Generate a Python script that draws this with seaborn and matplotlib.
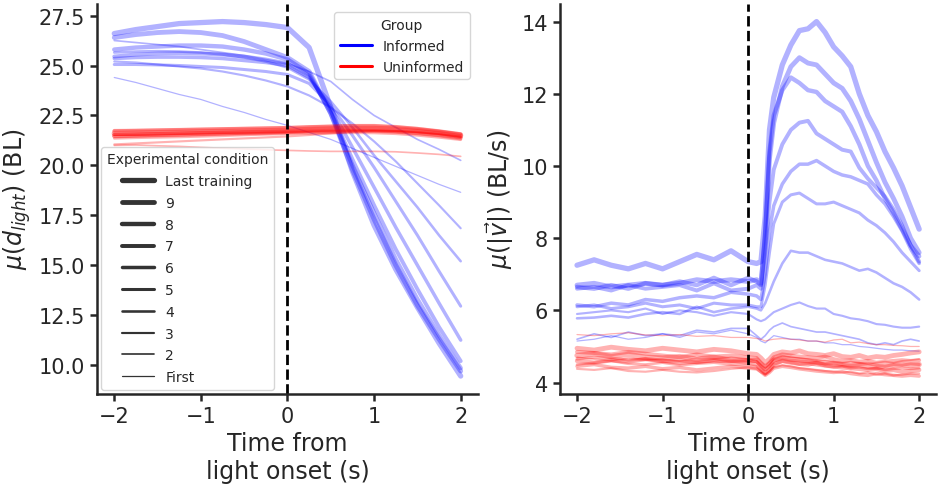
import matplotlib
matplotlib.use("Agg")
import matplotlib.pyplot as plt
from matplotlib.lines import Line2D
import pandas as pd
import seaborn as sns

# ---------------------------------------------------------------------------
# Experimental conditions (thin -> thick line) and groups
# ---------------------------------------------------------------------------
conditions = ["First", "2", "3", "4", "5", "6", "7", "8", "9", "Last training"]
groups = ["Informed", "Uninformed"]
group_colors = {"Informed": "blue", "Uninformed": "red"}

# ---------------------------------------------------------------------------
# Mean distance to the light (BL) around light onset
# ---------------------------------------------------------------------------
t_dist = [-2.0, -1.75, -1.5, -1.25, -1.0, -0.75, -0.5, -0.25, 0.0,
          0.25, 0.5, 0.75, 1.0, 1.25, 1.5, 1.75, 2.0]

dist_inf_first = [24.4, 24.15, 23.85, 23.55, 23.3, 22.95, 22.65, 22.3, 22.0, 21.65, 21.3, 20.85, 20.4, 19.95, 19.5, 19.05, 18.65]
dist_inf_2 = [26.25, 26.15, 26.05, 25.95, 25.8, 25.65, 25.5, 25.3, 25.1, 24.7, 24.2, 23.3, 22.5, 21.9, 21.3, 20.8, 20.25]
dist_inf_3 = [25.2, 25.15, 25.05, 24.95, 24.85, 24.7, 24.5, 24.25, 23.95, 23.5, 22.9, 22.1, 21.2, 20.2, 19.1, 18.0, 16.85]
dist_inf_4 = [25.65, 25.7, 25.72, 25.7, 25.65, 25.55, 25.4, 25.2, 24.9, 24.3, 23.2, 21.9, 20.5, 19.2, 17.9, 16.5, 15.2]
dist_inf_5 = [25.05, 25.05, 25.03, 25.0, 24.95, 24.9, 24.8, 24.7, 24.55, 24.1, 23.0, 21.5, 19.9, 18.2, 16.5, 14.7, 12.95]
dist_inf_6 = [25.35, 25.4, 25.42, 25.42, 25.4, 25.35, 25.25, 25.15, 25.0, 24.4, 22.9, 20.9, 18.9, 16.9, 15.0, 13.1, 11.25]
dist_inf_7 = [25.45, 25.55, 25.6, 25.62, 25.6, 25.55, 25.45, 25.3, 25.1, 24.5, 22.7, 20.3, 18.0, 15.8, 13.8, 11.9, 10.2]
dist_inf_8 = [25.8, 25.9, 25.95, 26.0, 26.0, 25.95, 25.8, 25.6, 25.3, 24.6, 22.6, 20.0, 17.6, 15.3, 13.3, 11.5, 9.85]
dist_inf_9 = [26.4, 26.55, 26.65, 26.7, 26.65, 26.5, 26.2, 25.8, 25.4, 24.7, 22.6, 19.8, 17.3, 15.0, 13.0, 11.3, 9.7]
dist_inf_last = [26.6, 26.8, 26.95, 27.1, 27.15, 27.2, 27.15, 27.05, 26.9, 25.9, 22.9, 19.7, 17.0, 14.8, 12.9, 11.1, 9.45]

dist_uninf_first = [21.5, 21.5, 21.52, 21.55, 21.58, 21.6, 21.62, 21.65, 21.67, 21.7, 21.72, 21.74, 21.74, 21.7, 21.64, 21.55, 21.4]
dist_uninf_2 = [21.0, 21.02, 20.98, 20.95, 20.9, 20.86, 20.82, 20.78, 20.75, 20.72, 20.7, 20.7, 20.7, 20.68, 20.62, 20.55, 20.45]
dist_uninf_3 = [21.05, 21.1, 21.15, 21.2, 21.25, 21.3, 21.35, 21.4, 21.45, 21.52, 21.6, 21.68, 21.72, 21.72, 21.68, 21.58, 21.45]
dist_uninf_4 = [21.35, 21.38, 21.4, 21.42, 21.45, 21.48, 21.52, 21.55, 21.58, 21.6, 21.62, 21.63, 21.62, 21.58, 21.5, 21.4, 21.28]
dist_uninf_5 = [21.75, 21.76, 21.78, 21.8, 21.82, 21.84, 21.86, 21.88, 21.9, 21.94, 21.97, 22.0, 22.0, 21.95, 21.85, 21.72, 21.58]
dist_uninf_6 = [21.55, 21.56, 21.58, 21.6, 21.62, 21.64, 21.66, 21.68, 21.7, 21.72, 21.74, 21.76, 21.75, 21.7, 21.62, 21.52, 21.4]
dist_uninf_7 = [21.45, 21.48, 21.5, 21.52, 21.55, 21.58, 21.6, 21.62, 21.65, 21.68, 21.7, 21.72, 21.72, 21.68, 21.6, 21.5, 21.35]
dist_uninf_8 = [21.7, 21.72, 21.74, 21.76, 21.78, 21.8, 21.82, 21.84, 21.86, 21.9, 21.93, 21.95, 21.95, 21.9, 21.82, 21.7, 21.55]
dist_uninf_9 = [21.5, 21.52, 21.55, 21.58, 21.6, 21.63, 21.65, 21.68, 21.7, 21.75, 21.78, 21.8, 21.8, 21.76, 21.7, 21.6, 21.45]
dist_uninf_last = [21.6, 21.62, 21.64, 21.66, 21.68, 21.7, 21.72, 21.74, 21.76, 21.8, 21.83, 21.85, 21.85, 21.82, 21.75, 21.65, 21.5]

# ---------------------------------------------------------------------------
# Mean speed (BL/s) around light onset
# ---------------------------------------------------------------------------
t_speed = [-2.0, -1.8, -1.6, -1.4, -1.2, -1.0, -0.8, -0.6, -0.4, -0.2, 0.0,
           0.1, 0.15, 0.2, 0.25, 0.3, 0.4, 0.5, 0.6, 0.7, 0.8, 0.9, 1.0,
           1.1, 1.2, 1.3, 1.4, 1.5, 1.6, 1.7, 1.8, 1.9, 2.0]

speed_inf_first = [5.15, 5.2, 5.3, 5.2, 5.25, 5.35, 5.25, 5.4, 5.35, 5.45, 5.35, 5.25, 5.15, 5.1, 5.2, 5.3, 5.25, 5.2, 5.2, 5.15, 5.15, 5.1, 5.1, 5.05, 5.05, 5.0, 4.98, 4.95, 4.92, 4.9, 4.9, 4.88, 4.87]
speed_inf_2 = [5.2, 5.35, 5.25, 5.4, 5.3, 5.35, 5.3, 5.45, 5.4, 5.5, 5.5, 5.3, 5.2, 5.3, 5.45, 5.55, 5.65, 5.55, 5.5, 5.45, 5.4, 5.4, 5.35, 5.3, 5.25, 5.2, 5.1, 5.05, 5.1, 5.05, 5.15, 5.2, 5.15]
speed_inf_3 = [5.9, 5.95, 6.0, 5.95, 6.05, 5.9, 6.0, 5.95, 5.85, 5.95, 5.9, 5.75, 5.7, 5.75, 5.85, 5.95, 6.05, 6.15, 6.22, 6.12, 6.05, 6.05, 5.9, 5.85, 5.78, 5.75, 5.7, 5.62, 5.6, 5.55, 5.52, 5.52, 5.55]
speed_inf_4 = [5.78, 5.8, 5.85, 5.8, 5.9, 5.95, 5.9, 6.1, 5.95, 6.05, 6.1, 6.05, 6.0, 6.2, 6.5, 6.8, 7.3, 7.65, 7.6, 7.6, 7.5, 7.4, 7.35, 7.3, 7.2, 7.1, 7.15, 7.05, 6.9, 6.75, 6.65, 6.5, 6.3]
speed_inf_5 = [6.1, 6.15, 6.05, 6.1, 6.2, 6.1, 6.15, 6.05, 6.2, 6.15, 6.15, 6.1, 6.1, 6.7, 7.6, 8.4, 9.0, 9.2, 9.25, 9.1, 8.95, 8.95, 9.0, 8.9, 8.8, 8.7, 8.5, 8.35, 8.15, 7.9, 7.6, 7.35, 7.1]
speed_inf_6 = [6.15, 6.1, 6.2, 6.15, 6.3, 6.25, 6.35, 6.4, 6.35, 6.5, 6.45, 6.4, 6.3, 7.0, 8.2, 8.9, 9.5, 9.85, 10.05, 10.05, 10.15, 10.0, 9.85, 9.75, 9.7, 9.6, 9.5, 9.2, 8.95, 8.6, 8.2, 7.7, 7.3]
speed_inf_7 = [6.6, 6.65, 6.55, 6.7, 6.6, 6.65, 6.7, 6.55, 6.75, 6.55, 6.6, 6.7, 6.6, 7.6, 9.0, 9.9, 10.6, 11.0, 11.2, 11.25, 10.9, 10.75, 10.6, 10.45, 10.4, 9.95, 9.65, 9.4, 9.15, 8.8, 8.35, 7.8, 7.35]
speed_inf_8 = [6.65, 6.6, 6.7, 6.6, 6.75, 6.7, 6.8, 6.7, 6.9, 6.7, 6.9, 6.8, 6.7, 8.2, 10.4, 11.4, 12.1, 12.45, 12.3, 12.1, 12.05, 11.8, 11.65, 11.5, 11.1, 10.6, 10.0, 9.6, 9.1, 8.7, 8.25, 7.8, 7.5]
speed_inf_9 = [6.7, 6.75, 6.65, 6.7, 6.75, 6.7, 6.75, 6.85, 6.8, 6.85, 6.8, 6.85, 6.75, 8.0, 10.2, 11.2, 12.2, 12.75, 13.0, 12.85, 12.8, 12.55, 12.3, 12.15, 11.8, 11.3, 10.7, 10.1, 9.55, 9.1, 8.6, 8.0, 7.6]
speed_inf_last = [7.25, 7.4, 7.25, 7.15, 7.3, 7.15, 7.35, 7.55, 7.4, 7.65, 7.35, 7.3, 7.35, 8.6, 11.0, 11.9, 12.8, 13.35, 13.75, 13.8, 14.0, 13.7, 13.3, 13.05, 12.75, 12.0, 11.4, 10.95, 10.4, 9.95, 9.45, 8.85, 8.25]

speed_uninf_first = [5.33, 5.3, 5.35, 5.38, 5.32, 5.3, 5.33, 5.28, 5.3, 5.25, 5.25, 5.22, 5.2, 5.15, 5.18, 5.2, 5.22, 5.2, 5.18, 5.15, 5.15, 5.12, 5.18, 5.2, 5.1, 5.12, 5.08, 5.05, 5.05, 5.03, 5.02, 5.0, 5.0]
speed_uninf_2 = [4.7, 4.65, 4.6, 4.68, 4.62, 4.65, 4.6, 4.68, 4.65, 4.7, 4.65, 4.6, 4.5, 4.4, 4.5, 4.65, 4.72, 4.7, 4.68, 4.65, 4.6, 4.62, 4.58, 4.55, 4.58, 4.55, 4.52, 4.55, 4.58, 4.55, 4.6, 4.62, 4.65]
speed_uninf_3 = [4.38, 4.35, 4.4, 4.32, 4.3, 4.35, 4.3, 4.28, 4.32, 4.38, 4.42, 4.38, 4.28, 4.22, 4.3, 4.42, 4.48, 4.45, 4.4, 4.38, 4.35, 4.32, 4.3, 4.28, 4.3, 4.25, 4.28, 4.22, 4.25, 4.2, 4.22, 4.25, 4.25]
speed_uninf_4 = [4.5, 4.55, 4.6, 4.52, 4.5, 4.55, 4.48, 4.52, 4.55, 4.5, 4.48, 4.45, 4.35, 4.25, 4.35, 4.5, 4.58, 4.55, 4.5, 4.52, 4.48, 4.45, 4.42, 4.45, 4.4, 4.42, 4.38, 4.4, 4.35, 4.38, 4.4, 4.38, 4.4]
speed_uninf_5 = [4.65, 4.7, 4.68, 4.62, 4.65, 4.58, 4.6, 4.55, 4.6, 4.58, 4.62, 4.58, 4.45, 4.35, 4.45, 4.6, 4.65, 4.62, 4.6, 4.58, 4.55, 4.52, 4.55, 4.5, 4.48, 4.5, 4.52, 4.48, 4.45, 4.5, 4.48, 4.52, 4.5]
speed_uninf_6 = [4.45, 4.5, 4.42, 4.4, 4.45, 4.38, 4.42, 4.35, 4.4, 4.45, 4.4, 4.38, 4.3, 4.2, 4.28, 4.4, 4.45, 4.42, 4.38, 4.35, 4.32, 4.3, 4.28, 4.3, 4.25, 4.22, 4.2, 4.25, 4.22, 4.2, 4.18, 4.2, 4.18]
speed_uninf_7 = [4.85, 4.82, 4.78, 4.85, 4.8, 4.75, 4.7, 4.78, 4.72, 4.75, 4.7, 4.68, 4.55, 4.45, 4.55, 4.7, 4.78, 4.75, 4.72, 4.7, 4.68, 4.72, 4.65, 4.6, 4.62, 4.58, 4.6, 4.55, 4.58, 4.6, 4.62, 4.6, 4.62]
speed_uninf_8 = [4.6, 4.55, 4.62, 4.58, 4.65, 4.6, 4.55, 4.58, 4.62, 4.6, 4.55, 4.5, 4.38, 4.25, 4.35, 4.5, 4.6, 4.55, 4.52, 4.5, 4.55, 4.48, 4.45, 4.42, 4.4, 4.38, 4.35, 4.38, 4.32, 4.35, 4.3, 4.32, 4.35]
speed_uninf_9 = [4.95, 4.9, 4.98, 4.92, 4.88, 4.95, 4.9, 4.85, 4.92, 4.88, 4.8, 4.78, 4.68, 4.55, 4.65, 4.78, 4.85, 4.82, 4.88, 4.8, 4.78, 4.75, 4.8, 4.72, 4.7, 4.75, 4.68, 4.72, 4.7, 4.75, 4.78, 4.82, 4.85]
speed_uninf_last = [4.75, 4.8, 4.72, 4.78, 4.7, 4.68, 4.72, 4.65, 4.7, 4.62, 4.6, 4.62, 4.5, 4.38, 4.5, 4.62, 4.7, 4.65, 4.62, 4.6, 4.58, 4.55, 4.52, 4.5, 4.48, 4.5, 4.45, 4.42, 4.45, 4.48, 4.5, 4.47, 4.5]

dist_series = {
    "Informed": [dist_inf_first, dist_inf_2, dist_inf_3, dist_inf_4, dist_inf_5,
                 dist_inf_6, dist_inf_7, dist_inf_8, dist_inf_9, dist_inf_last],
    "Uninformed": [dist_uninf_first, dist_uninf_2, dist_uninf_3, dist_uninf_4, dist_uninf_5,
                   dist_uninf_6, dist_uninf_7, dist_uninf_8, dist_uninf_9, dist_uninf_last],
}
speed_series = {
    "Informed": [speed_inf_first, speed_inf_2, speed_inf_3, speed_inf_4, speed_inf_5,
                 speed_inf_6, speed_inf_7, speed_inf_8, speed_inf_9, speed_inf_last],
    "Uninformed": [speed_uninf_first, speed_uninf_2, speed_uninf_3, speed_uninf_4, speed_uninf_5,
                   speed_uninf_6, speed_uninf_7, speed_uninf_8, speed_uninf_9, speed_uninf_last],
}


def long_table(times, series):
    rows = []
    for grp in groups:
        for cond, values in zip(conditions, series[grp]):
            for t, v in zip(times, values):
                rows.append({"time": t, "value": v, "Group": grp, "Condition": cond})
    return pd.DataFrame(rows)


df_dist = long_table(t_dist, dist_series)
df_speed = long_table(t_speed, speed_series)

# line width grows with training
lw_min, lw_max = 0.9, 3.8
cond_widths = {c: lw_min + i * (lw_max - lw_min) / (len(conditions) - 1)
               for i, c in enumerate(conditions)}

sns.set_theme(style="ticks")
plt.rcParams["font.family"] = ["DejaVu Sans"]
plt.rcParams["axes.linewidth"] = 1.8

fig = plt.figure(figsize=(9.41, 4.85), dpi=100)
ax1 = fig.add_axes([0.103, 0.186, 0.405, 0.804])
ax2 = fig.add_axes([0.595, 0.186, 0.400, 0.804])

for ax, df in ((ax1, df_dist), (ax2, df_speed)):
    sns.lineplot(data=df, x="time", y="value", hue="Group", hue_order=groups,
                 palette=group_colors, size="Condition", size_order=conditions,
                 sizes=cond_widths, estimator=None, alpha=0.3, legend=False,
                 ax=ax)
    ax.axvline(0, color="black", ls="--", lw=2)
    ax.set_xlabel("Time from\nlight onset (s)", fontsize=17)
    ax.tick_params(axis="both", labelsize=15, length=5, width=1.8)
    ax.set_xticks([-2, -1, 0, 1, 2])
    sns.despine(ax=ax)

ax1.set_ylabel(r"$\mu(d_{light})$ (BL)", fontsize=17)
ax2.set_ylabel(r"$\mu(|\vec{v}|)$ (BL/s)", fontsize=17)
ax1.set_yticks([10.0, 12.5, 15.0, 17.5, 20.0, 22.5, 25.0, 27.5])
ax2.set_yticks([4, 6, 8, 10, 12, 14])

# legend for the two groups
group_handles = [Line2D([0], [0], color=group_colors[g], lw=2.2) for g in groups]
leg_group = ax1.legend(group_handles, groups, title="Group", loc="upper right",
                       fontsize=10, title_fontsize=10, handlelength=2.3,
                       borderaxespad=0.6)
ax1.add_artist(leg_group)

# legend for the experimental conditions (line width)
cond_order = conditions[::-1]
cond_handles = [Line2D([0], [0], color="0.2", lw=cond_widths[c]) for c in cond_order]
ax1.legend(cond_handles, cond_order, title="Experimental condition",
           loc="lower left", fontsize=10, title_fontsize=10, handlelength=2.3,
           labelspacing=0.56, borderaxespad=0.3)

fig.savefig("out.png", dpi=100)
